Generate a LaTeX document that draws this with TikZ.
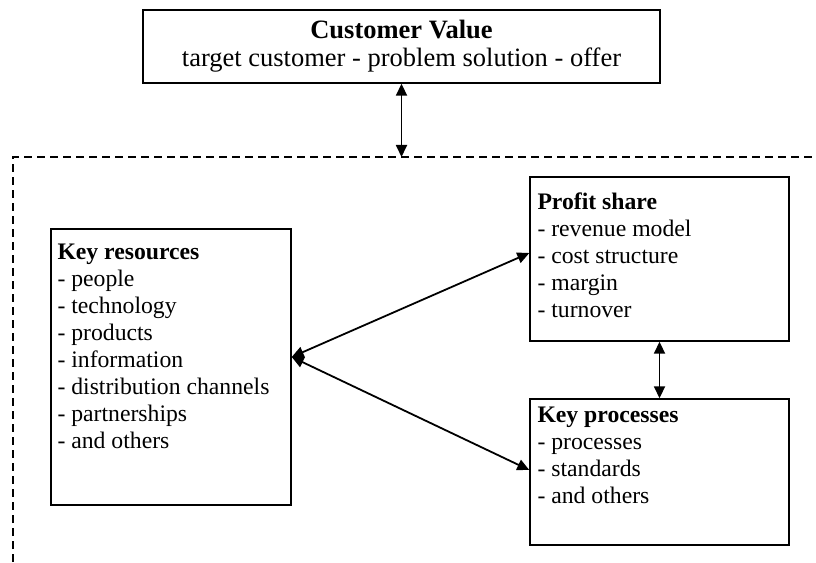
\documentclass[tikz,border=0pt]{standalone}
\usepackage{fontspec}
\setmainfont{Liberation Serif}
\usepackage{tikz}
\usetikzlibrary{arrows.meta,positioning,calc}
\tikzset{
    box/.style={
        draw=black,
        rectangle,
        line width=1.4pt,
        inner sep=0pt
    },
    boxtext/.style={
        anchor=north west,
        inner sep=0pt,
        align=left,
        font=\fontsize{23.7}{27}\selectfont
    },
    twoway/.style={
        {Triangle[length=12pt,width=11pt]}-{Triangle[length=12pt,width=11pt]},
        line width=1.8pt
    },
    frameline/.style={
        dashed,
        dash pattern=on 8pt off 5pt,
        line width=1.2pt
    }
}

\begin{document}
\begin{tikzpicture}[x=1pt,y=1pt]
    \useasboundingbox (0,0) rectangle (816,562);
    % Customer value on top
    \node[box, minimum width=517pt, minimum height=73pt, align=center,
          font=\fontsize{26.5}{28}\selectfont] (value) at (401.5,515.5)
        {\textbf{Customer Value}\\target customer - problem solution - offer};

    % Dashed frame
    \coordinate (frame) at (13,405);
    \coordinate (frameend) at (816,405);
    \coordinate (framefoot) at (13,0);
    \draw[frameline] (framefoot) -- (frame) -- (frameend);

    % Boxes inside the frame
    \node[box, minimum width=240pt, minimum height=276pt] (resources) at (171,195) {};
    \node[box, minimum width=259pt, minimum height=164pt] (profit) at (659.5,303) {};
    \node[box, minimum width=259pt, minimum height=146pt] (processes) at (659.5,90) {};

    % Texts
    \node[boxtext, below right=15pt and 7pt of resources.north west] (restext)
        {\textbf{Key resources}\\- people\\- technology\\- products\\- information\\- distribution channels\\- partnerships\\- and others};
    \node[boxtext, below right=16pt and 8pt of profit.north west] (profittext)
        {\textbf{Profit share}\\- revenue model\\- cost structure\\- margin\\- turnover};
    \node[boxtext, below right=8pt and 8pt of processes.north west] (proctext)
        {\textbf{Key processes}\\- processes\\- standards\\- and others};

    % Arrows
    \coordinate (valuefoot) at (value.south |- frame);
    \draw[twoway] (value.south) -- (valuefoot);
    \draw[twoway] (profit.south) -- (processes.north);
    \draw[twoway] ([yshift=10pt]resources.east) -- ([yshift=6pt]profit.west);
    \draw[twoway] ([yshift=10pt]resources.east) -- ([yshift=2pt]processes.west);
\end{tikzpicture}
\end{document}
